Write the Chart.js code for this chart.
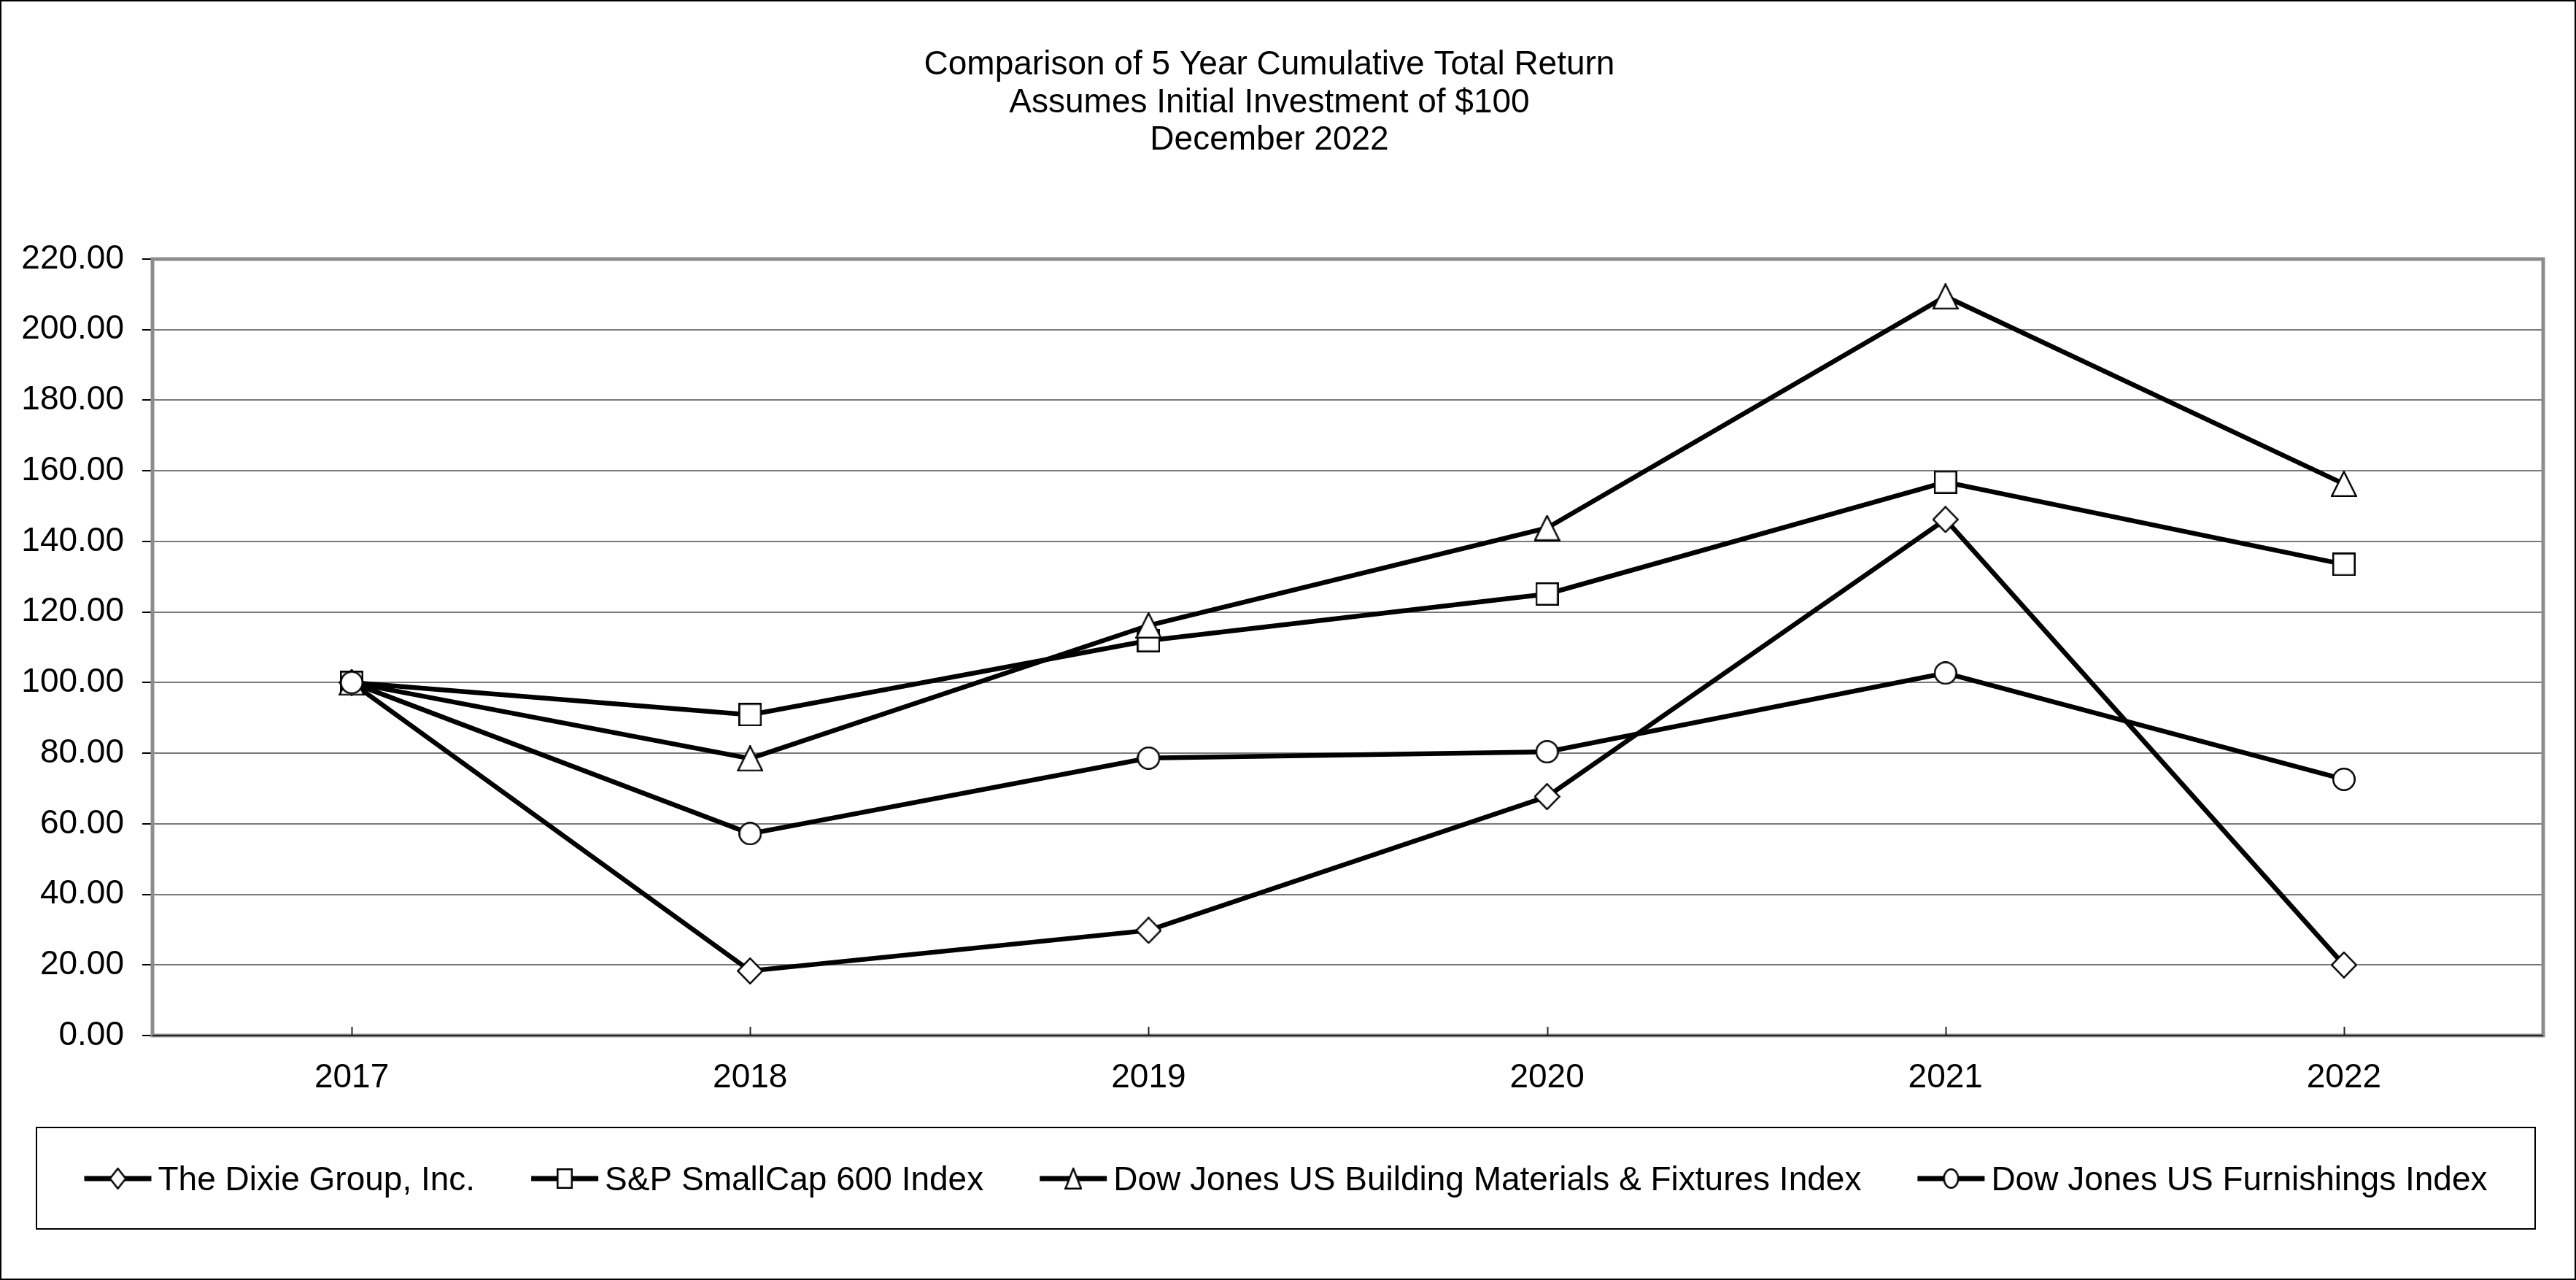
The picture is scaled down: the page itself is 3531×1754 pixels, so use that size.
<!DOCTYPE html>
<html>
<head>
<meta charset="utf-8">
<script src="https://cdn.jsdelivr.net/npm/chart.js@4.4.1/dist/chart.umd.min.js"></script>
<style>
  html, body { margin: 0; padding: 0; background: #fff; }
  canvas { display: block; }
</style>
</head>
<body>
<canvas id="returnChart" width="3531" height="1754"></canvas>
<script>
const years = ['2017', '2018', '2019', '2020', '2021', '2022']
const dixie = [100, 18.3, 29.8, 67.7, 146.2, 20.0]
const smallCap600 = [100, 90.9, 111.9, 125.1, 156.8, 133.5]
const buildingMaterials = [100, 78.5, 116.2, 143.8, 209.4, 156.3]
const furnishings = [100, 57.2, 78.6, 80.4, 102.7, 72.6]

const seriesNames = [
  'The Dixie Group, Inc.',
  'S&P SmallCap 600 Index',
  'Dow Jones US Building Materials & Fixtures Index',
  'Dow Jones US Furnishings Index'
]
const titleLines = [
  'Comparison of 5 Year Cumulative Total Return',
  'Assumes Initial Investment of $100',
  'December 2022'
]
const yMin = 0
const yMax = 220
const yStep = 20

const FONT = '"Liberation Sans", Arial, sans-serif'

// white marker with black outline, drawn on a small canvas
function makeMarker(shape, w, h) {
  const c = document.createElement('canvas')
  c.width = w
  c.height = h
  const g = c.getContext('2d')
  const lw = 2.5
  const l = lw / 2, t = lw / 2, r = w - lw / 2, b = h - lw / 2
  g.beginPath()
  if (shape === 'diamond') {
    g.moveTo(w / 2, t); g.lineTo(r, h / 2); g.lineTo(w / 2, b); g.lineTo(l, h / 2)
  } else if (shape === 'square') {
    g.rect(l, t, r - l, b - t)
  } else if (shape === 'triangle') {
    g.moveTo(w / 2, t); g.lineTo(r, b); g.lineTo(l, b)
  } else {
    g.ellipse(w / 2, h / 2, (r - l) / 2, (b - t) / 2, 0, 0, Math.PI * 2)
  }
  g.closePath()
  g.fillStyle = '#fff'
  g.fill()
  g.lineWidth = lw
  g.strokeStyle = '#000'
  g.stroke()
  return c
}

const markers = [
  makeMarker('diamond', 36, 37),
  makeMarker('square', 32, 32),
  makeMarker('triangle', 36, 36),
  makeMarker('circle', 32, 32)
]
const legendMarkers = [
  makeMarker('diamond', 24, 30),
  makeMarker('square', 22, 28),
  makeMarker('triangle', 24, 30),
  makeMarker('circle', 22, 28)
]

function line(label, data, idx, order) {
  return {
    label: label,
    data: data,
    borderColor: '#000',
    borderWidth: 6.5,
    tension: 0,
    pointStyle: markers[idx],
    pointRadius: 16,
    order: order
  }
}

const frame = {
  id: 'frame',
  beforeDraw(chart) {
    const ctx = chart.ctx
    ctx.save()
    ctx.fillStyle = '#fff'
    ctx.fillRect(0, 0, chart.width, chart.height)
    ctx.restore()
  },
  beforeDatasetsDraw(chart) {
    const ctx = chart.ctx
    const a = chart.chartArea
    const x = chart.scales.x
    ctx.save()
    ctx.strokeStyle = '#8c8c8c'
    ctx.lineWidth = 5
    ctx.strokeRect(a.left, a.top, a.right - a.left, a.bottom - a.top)
    ctx.strokeStyle = '#222'
    ctx.lineWidth = 2
    ctx.beginPath()
    ctx.moveTo(a.left, a.bottom)
    ctx.lineTo(a.right, a.bottom)
    years.forEach((y, i) => {
      const px = Math.round(x.getPixelForValue(i)) + 0.5
      ctx.moveTo(px, a.bottom)
      ctx.lineTo(px, a.bottom - 12)
    })
    ctx.stroke()
    ctx.restore()
  },
  afterDraw(chart) {
    const ctx = chart.ctx
    ctx.save()
    // outer frame
    ctx.strokeStyle = '#000'
    ctx.lineWidth = 2
    ctx.strokeRect(1, 1, chart.width - 2, chart.height - 2)

    // title
    ctx.fillStyle = '#000'
    ctx.font = '46px ' + FONT
    ctx.textAlign = 'center'
    ctx.textBaseline = 'alphabetic'
    titleLines.forEach((t, i) => ctx.fillText(t, 1740, 102 + i * 51.5))

    // legend box
    const box = { left: 50, top: 1545, right: 3475, bottom: 1684 }
    ctx.lineWidth = 2
    ctx.strokeRect(box.left, box.top, box.right - box.left, box.bottom - box.top)

    ctx.textAlign = 'left'
    const lineLen = 92
    const textOff = 101
    const gap = 77
    const labels = chart.data.datasets.map(d => d.label)
    const widths = labels.map(l => ctx.measureText(l).width)
    const total = widths.reduce((s, w) => s + w + textOff, 0) + gap * (labels.length - 1)
    let lx = (box.left + box.right) / 2 - total / 2
    const ly = 1615
    labels.forEach((l, i) => {
      ctx.strokeStyle = '#000'
      ctx.lineWidth = 7
      ctx.beginPath()
      ctx.moveTo(lx, ly)
      ctx.lineTo(lx + lineLen, ly)
      ctx.stroke()
      const m = legendMarkers[i]
      ctx.drawImage(m, lx + lineLen / 2 - m.width / 2, ly - m.height / 2)
      ctx.fillText(l, lx + textOff, ly + 16)
      lx += textOff + widths[i] + gap
    })
    ctx.restore()
  }
}

const chart = new Chart(document.getElementById('returnChart').getContext('2d'), {
  type: 'line',
  data: {
    labels: years,
    datasets: [
      line(seriesNames[0], dixie, 0, 4),
      line(seriesNames[1], smallCap600, 1, 3),
      line(seriesNames[2], buildingMaterials, 2, 2),
      line(seriesNames[3], furnishings, 3, 1)
    ]
  },
  options: {
    responsive: false,
    devicePixelRatio: 1,
    animation: false,
    layout: { padding: { top: 355, right: 45, bottom: 0, left: 0 } },
    plugins: {
      legend: { display: false },
      title: { display: false },
      tooltip: { enabled: false }
    },
    scales: {
      x: {
        type: 'category',
        offset: true,
        grid: { display: false, drawTicks: false },
        border: { display: false },
        ticks: { color: '#000', font: { family: FONT, size: 46 }, padding: 31, maxRotation: 0 },
        afterFit: s => { s.height = 335 }
      },
      y: {
        min: yMin,
        max: yMax,
        grid: { color: '#7a7a7a', lineWidth: 2, tickLength: 14, tickColor: '#000', tickWidth: 2 },
        border: { display: false },
        ticks: {
          stepSize: yStep,
          color: '#000',
          font: { family: FONT, size: 46 },
          padding: 25,
          callback: v => v.toFixed(2)
        },
        afterFit: s => { s.width = 209 }
      }
    }
  },
  plugins: [frame]
})
</script>
</body>
</html>
